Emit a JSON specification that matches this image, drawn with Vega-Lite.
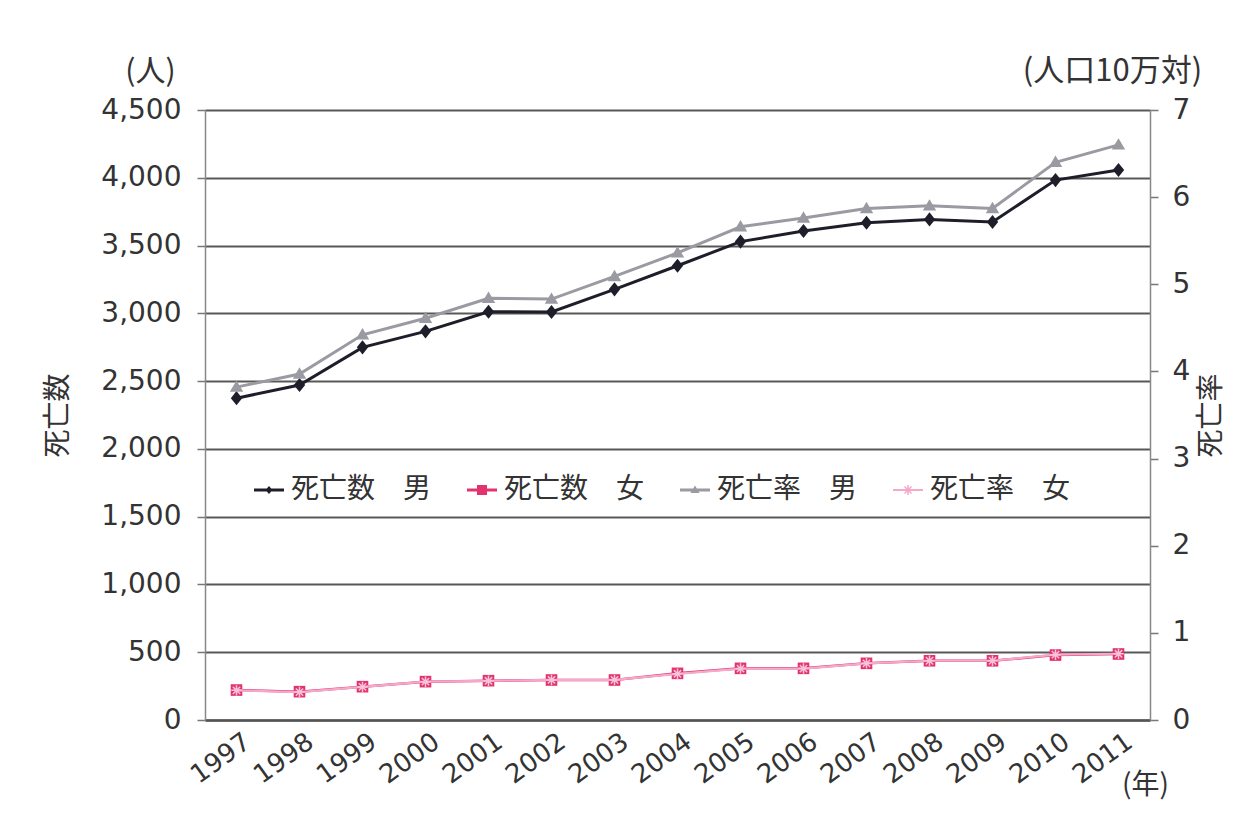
{
  "$schema": "https://vega.github.io/schema/vega-lite/v6.json",
  "width": 945,
  "height": 610,
  "autosize": "none",
  "padding": {"left": 205, "top": 110, "right": 99, "bottom": 107},
  "background": "#ffffff",
  "config": {"view": {"stroke": null}},
  "datasets": {
    "count": [
      {"year": 1997, "series": "死亡数　男", "value": 2374},
      {"year": 1998, "series": "死亡数　男", "value": 2471},
      {"year": 1999, "series": "死亡数　男", "value": 2749},
      {"year": 2000, "series": "死亡数　男", "value": 2867},
      {"year": 2001, "series": "死亡数　男", "value": 3012},
      {"year": 2002, "series": "死亡数　男", "value": 3010},
      {"year": 2003, "series": "死亡数　男", "value": 3177},
      {"year": 2004, "series": "死亡数　男", "value": 3351},
      {"year": 2005, "series": "死亡数　男", "value": 3529},
      {"year": 2006, "series": "死亡数　男", "value": 3607},
      {"year": 2007, "series": "死亡数　男", "value": 3668},
      {"year": 2008, "series": "死亡数　男", "value": 3693},
      {"year": 2009, "series": "死亡数　男", "value": 3674},
      {"year": 2010, "series": "死亡数　男", "value": 3983},
      {"year": 2011, "series": "死亡数　男", "value": 4057},
      {"year": 1997, "series": "死亡数　女", "value": 221},
      {"year": 1998, "series": "死亡数　女", "value": 209},
      {"year": 1999, "series": "死亡数　女", "value": 246},
      {"year": 2000, "series": "死亡数　女", "value": 283},
      {"year": 2001, "series": "死亡数　女", "value": 290},
      {"year": 2002, "series": "死亡数　女", "value": 295},
      {"year": 2003, "series": "死亡数　女", "value": 295},
      {"year": 2004, "series": "死亡数　女", "value": 344},
      {"year": 2005, "series": "死亡数　女", "value": 381},
      {"year": 2006, "series": "死亡数　女", "value": 381},
      {"year": 2007, "series": "死亡数　女", "value": 418},
      {"year": 2008, "series": "死亡数　女", "value": 437},
      {"year": 2009, "series": "死亡数　女", "value": 437},
      {"year": 2010, "series": "死亡数　女", "value": 479},
      {"year": 2011, "series": "死亡数　女", "value": 487}
    ],
    "rate": [
      {"year": 1997, "series": "死亡率　男", "value": 3.82},
      {"year": 1998, "series": "死亡率　男", "value": 3.97},
      {"year": 1999, "series": "死亡率　男", "value": 4.42},
      {"year": 2000, "series": "死亡率　男", "value": 4.61},
      {"year": 2001, "series": "死亡率　男", "value": 4.84},
      {"year": 2002, "series": "死亡率　男", "value": 4.83},
      {"year": 2003, "series": "死亡率　男", "value": 5.09},
      {"year": 2004, "series": "死亡率　男", "value": 5.36},
      {"year": 2005, "series": "死亡率　男", "value": 5.66},
      {"year": 2006, "series": "死亡率　男", "value": 5.76},
      {"year": 2007, "series": "死亡率　男", "value": 5.87},
      {"year": 2008, "series": "死亡率　男", "value": 5.90},
      {"year": 2009, "series": "死亡率　男", "value": 5.87},
      {"year": 2010, "series": "死亡率　男", "value": 6.40},
      {"year": 2011, "series": "死亡率　男", "value": 6.60},
      {"year": 1997, "series": "死亡率　女", "value": 0.34},
      {"year": 1998, "series": "死亡率　女", "value": 0.32},
      {"year": 1999, "series": "死亡率　女", "value": 0.38},
      {"year": 2000, "series": "死亡率　女", "value": 0.44},
      {"year": 2001, "series": "死亡率　女", "value": 0.45},
      {"year": 2002, "series": "死亡率　女", "value": 0.46},
      {"year": 2003, "series": "死亡率　女", "value": 0.46},
      {"year": 2004, "series": "死亡率　女", "value": 0.53},
      {"year": 2005, "series": "死亡率　女", "value": 0.59},
      {"year": 2006, "series": "死亡率　女", "value": 0.59},
      {"year": 2007, "series": "死亡率　女", "value": 0.65},
      {"year": 2008, "series": "死亡率　女", "value": 0.68},
      {"year": 2009, "series": "死亡率　女", "value": 0.68},
      {"year": 2010, "series": "死亡率　女", "value": 0.75},
      {"year": 2011, "series": "死亡率　女", "value": 0.76}
    ]
  },
  "encoding": {
    "x": {
      "field": "year",
      "type": "ordinal",
      "axis": {
        "title": "(年)",
        "titleFont": "Noto Sans CJK JP",
        "titleFontSize": 28,
        "titleFontWeight": "normal",
        "titleColor": "#333333",
        "titleX": 940,
        "titleY": 65,
        "titleAngle": 0,
        "titleAlign": "center",
        "titleBaseline": "middle",
        "labelAngle": -36,
        "labelFont": "DejaVu Sans",
        "labelFontSize": 26,
        "labelColor": "#333333",
        "labelOffset": 3,
        "ticks": false,
        "labelPadding": 8,
        "domainColor": "#555555",
        "domainWidth": 2.5,
        "grid": false
      }
    }
  },
  "layer": [
    {
      "data": {"name": "count"},
      "encoding": {
        "y": {
          "field": "value",
          "type": "quantitative",
          "scale": {"domain": [0, 4500], "nice": false, "zero": true},
          "axis": {
            "orient": "left",
            "title": "死亡数",
            "titleFont": "Noto Sans CJK JP",
            "titleFontSize": 28,
            "titleFontWeight": "normal",
            "titleColor": "#333333",
            "titlePadding": 28,
            "values": [0, 500, 1000, 1500, 2000, 2500, 3000, 3500, 4000, 4500],
            "format": ",.0f",
            "labelFont": "DejaVu Sans",
            "labelFontSize": 28,
            "labelColor": "#333333",
            "labelPadding": 16,
            "tickSize": 8,
            "tickColor": "#777777",
            "tickWidth": 1.5,
            "domainColor": "#888888",
            "domainWidth": 1.5,
            "grid": true,
            "gridColor": "#585858",
            "gridWidth": 2
          }
        }
      },
      "layer": [
        {
          "transform": [{"filter": {"field": "series", "equal": "死亡数　男"}}],
          "mark": {"type": "line", "strokeWidth": 3, "color": "#1e1e2a"},
          "encoding": {}
        },
        {
          "transform": [{"filter": {"field": "series", "equal": "死亡数　女"}}],
          "mark": {"type": "line", "strokeWidth": 2.5, "color": "#e2336e"},
          "encoding": {}
        },
        {
          "transform": [{"filter": {"field": "series", "equal": "死亡数　男"}}],
          "mark": {"type": "point", "filled": true, "size": 200, "shape": "M0,-1L0.8,0L0,1L-0.8,0Z", "color": "#1e1e2a", "opacity": 1},
          "encoding": {}
        },
        {
          "transform": [{"filter": {"field": "series", "equal": "死亡数　女"}}],
          "mark": {"type": "point", "filled": true, "size": 135, "shape": "M-1,-1H1V1H-1Z", "color": "#e2336e", "opacity": 1},
          "encoding": {}
        },
        {
          "data": {"values": [{"series": "死亡数　男"}, {"series": "死亡数　女"}, {"series": "死亡率　男"}, {"series": "死亡率　女"}]},
          "mark": {"type": "point", "filled": true, "size": 100, "opacity": 0},
          "encoding": {
            "color": {
              "field": "series",
              "type": "nominal",
              "scale": {
                "domain": ["死亡数　男", "死亡数　女", "死亡率　男", "死亡率　女"],
                "range": ["#1e1e2a", "#e2336e", "#9a9aa2", "#f4a9c9"]
              },
              "legend": {
                "orient": "none",
                "legendX": 50,
                "legendY": 366,
                "direction": "horizontal",
                "title": null,
                "labelFont": "Noto Sans CJK JP",
                "labelFontSize": 28,
                "labelColor": "#333333",
                "symbolSize": 100,
                "symbolOpacity": 1,
                "symbolStrokeWidth": 0,
                "labelOffset": 8,
                "columnPadding": 35
              }
            },
            "shape": {
              "field": "series",
              "type": "nominal",
              "scale": {
                "domain": ["死亡数　男", "死亡数　女", "死亡率　男", "死亡率　女"],
                "range": [
                  "M-3,-0.3H3V0.3H-3ZM0,-0.8L0.7,0L0,0.8L-0.7,0Z",
                  "M-3,-0.3H3V0.3H-3ZM-1,-1H1V1H-1Z",
                  "M-3,-0.3H3V0.3H-3ZM0,-0.9L0.9,0.6L-0.9,0.6Z",
                  "M-3,-0.2H3V0.2H-3ZM-0.15,-1H0.15V1H-0.15ZM-0.594,-0.806L0.806,0.594L0.594,0.806L-0.806,-0.594ZM-0.806,0.594L0.594,-0.806L0.806,-0.594L-0.594,0.806Z"
                ]
              },
              "legend": {
                "orient": "none",
                "legendX": 50,
                "legendY": 366,
                "direction": "horizontal",
                "title": null,
                "labelFont": "Noto Sans CJK JP",
                "labelFontSize": 28,
                "labelColor": "#333333",
                "symbolSize": 100,
                "symbolOpacity": 1,
                "symbolStrokeWidth": 0,
                "labelOffset": 8,
                "columnPadding": 35
              }
            }
          }
        },
        {
          "data": {"values": [{"label": "(人)", "year": 1997, "value": 4500}]},
          "mark": {"type": "text", "font": "Noto Sans CJK JP", "fontSize": 30, "fill": "#333333", "dx": -86, "dy": -38},
          "encoding": {
            "text": {"field": "label", "type": "nominal"}
          }
        }
      ]
    },
    {
      "data": {"name": "rate"},
      "encoding": {
        "y": {
          "field": "value",
          "type": "quantitative",
          "scale": {"domain": [0, 7], "nice": false, "zero": true},
          "axis": {
            "orient": "right",
            "title": "死亡率",
            "titleFont": "Noto Sans CJK JP",
            "titleFontSize": 28,
            "titleFontWeight": "normal",
            "titleColor": "#333333",
            "titleAngle": 270,
            "titleBaseline": "top",
            "titlePadding": 8,
            "values": [0, 1, 2, 3, 4, 5, 6, 7],
            "labelFont": "DejaVu Sans",
            "labelFontSize": 28,
            "labelColor": "#333333",
            "labelPadding": 14,
            "tickSize": 8,
            "tickColor": "#777777",
            "tickWidth": 1.5,
            "domainColor": "#888888",
            "domainWidth": 1.5,
            "grid": false
          }
        }
      },
      "layer": [
        {
          "transform": [{"filter": {"field": "series", "equal": "死亡率　男"}}],
          "mark": {"type": "line", "strokeWidth": 3, "color": "#9a9aa2"},
          "encoding": {}
        },
        {
          "transform": [{"filter": {"field": "series", "equal": "死亡率　女"}}],
          "mark": {"type": "line", "strokeWidth": 2.2, "color": "#f4a9c9"},
          "encoding": {}
        },
        {
          "transform": [{"filter": {"field": "series", "equal": "死亡率　男"}}],
          "mark": {"type": "point", "filled": true, "size": 180, "shape": "M0,-1L1,0.7L-1,0.7Z", "color": "#9a9aa2", "opacity": 1},
          "encoding": {}
        },
        {
          "transform": [{"filter": {"field": "series", "equal": "死亡率　女"}}],
          "mark": {"type": "point", "filled": false, "size": 110, "shape": "M-1,0H1M-0.7,-0.7L0.7,0.7M-0.7,0.7L0.7,-0.7M0,-1V1", "stroke": "#f7c3da", "strokeWidth": 1.5, "opacity": 1},
          "encoding": {}
        },
        {
          "data": {"values": [{"label": "(人口10万対)", "year": 2011, "value": 7}]},
          "mark": {"type": "text", "font": "Noto Sans CJK JP", "fontSize": 31, "fill": "#333333", "dx": -6, "dy": -38},
          "encoding": {
            "text": {"field": "label", "type": "nominal"}
          }
        }
      ]
    }
  ],
  "resolve": {"scale": {"y": "independent"}}
}
